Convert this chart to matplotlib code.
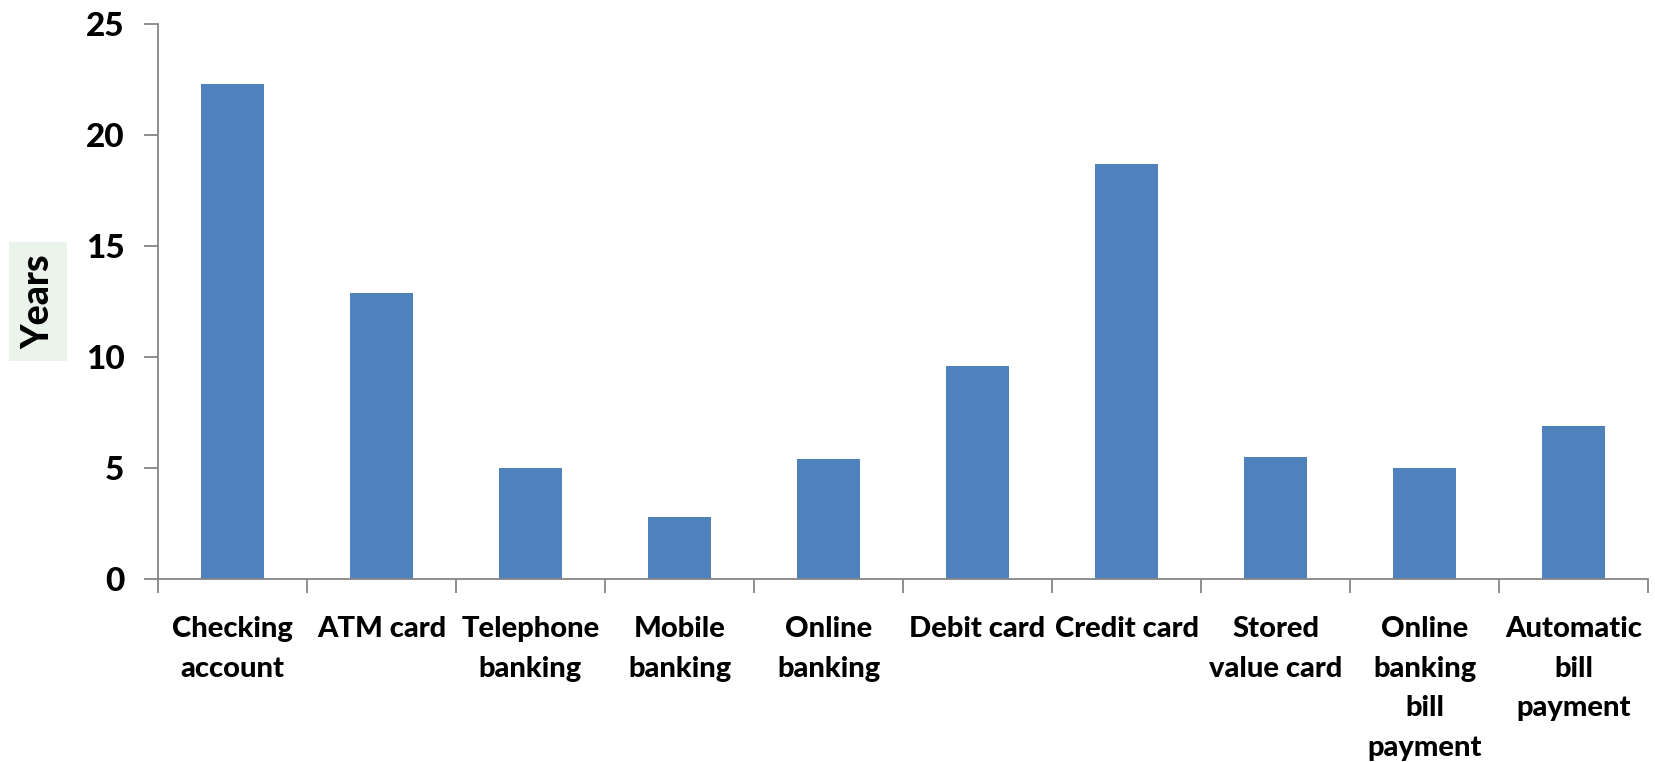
"""
Bar chart: years of use per payment instrument.
"""
import numpy as np
import matplotlib.pyplot as plt

categories = ['Checking\naccount', 'ATM card', 'Telephone\nbanking', 'Mobile\nbanking',
              'Online\nbanking', 'Debit card', 'Credit card', 'Stored\nvalue card',
              'Online\nbanking\nbill\npayment', 'Automatic\nbill\npayment']
years = [22.3, 12.9, 5.0, 2.8, 5.4, 9.6, 18.7, 5.5, 5.0, 6.9]
y_ticks = [0, 5, 10, 15, 20, 25]

bar_color = '#4F81BD'
axis_color = '#868686'
plt.rcParams['font.family'] = ['Lato', 'DejaVu Sans']
weight = 900

fig = plt.figure(figsize=(16.56, 7.62), dpi=100)
ax = fig.add_axes([0.0954, 0.2402, 0.8998, 0.7283])

x = np.arange(len(categories))
ax.bar(x, years, width=0.42, color=bar_color)

ax.set_xlim(-0.5, len(categories) - 0.5)
ax.set_ylim(0, 25)
ax.set_yticks(y_ticks)
ax.set_yticklabels([str(v) for v in y_ticks], fontsize=24, fontweight=weight)

# labels at bar centres, tick marks between the categories
ax.set_xticks(x)
ax.set_xticklabels(categories, fontsize=21, fontweight=weight, linespacing=1.64, va='top')
ax.set_xticks(np.arange(len(categories) + 1) - 0.5, minor=True)
ax.tick_params(axis='x', which='major', length=0, pad=27)
ax.tick_params(axis='x', which='minor', length=10, width=1.3, color=axis_color, direction='out')
ax.tick_params(axis='y', length=10, width=1.3, color=axis_color, direction='out', pad=14)

for side in ['top', 'right']:
    ax.spines[side].set_visible(False)
for side in ['left', 'bottom']:
    ax.spines[side].set_color(axis_color)
    ax.spines[side].set_linewidth(1.3)

ax.set_ylabel('Years', fontsize=27, fontweight=weight, labelpad=22,
              bbox=dict(boxstyle='square,pad=0.32', facecolor='#EAF4EA', edgecolor='none'))

fig.savefig('out.png', dpi=100)
